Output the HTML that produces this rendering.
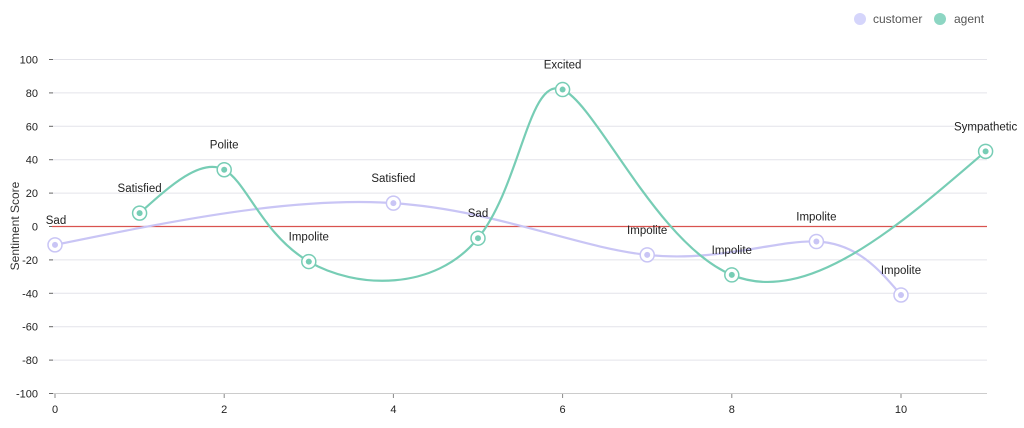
<!DOCTYPE html>
<html><head><meta charset="utf-8"><style>
body{margin:0;background:#fff;}
svg text{font-family:"Liberation Sans",sans-serif;}
</style></head><body>
<svg id="s" width="1024" height="423" xmlns="http://www.w3.org/2000/svg">
<g id="grid"></g>
<line x1="52" y1="226.5" x2="987" y2="226.5" stroke="#d9534f" stroke-width="1.2"/>
<text transform="translate(19,226) rotate(-90)" text-anchor="middle" font-size="12" fill="#333">Sentiment Score</text>
<circle cx="860" cy="19" r="6" fill="#d5d5fb"/><text x="873" y="23" font-size="12" fill="#555">customer</text>
<circle cx="940" cy="19" r="6" fill="#8dd6c3"/><text x="954" y="23" font-size="12" fill="#555">agent</text>
<g id="series"></g>
</svg>
<script>
var ns="http://www.w3.org/2000/svg",s=document.getElementById('s');
function X(v){return 55+v*84.6}function Y(v){return 226.5-v*1.67}
function el(p,t,a,txt){var e=document.createElementNS(ns,t);for(var k in a)e.setAttribute(k,a[k]);if(txt!=null)e.textContent=txt;p.appendChild(e);return e}
var g=document.getElementById('grid');
for(var v=-100;v<=100;v+=20){var y=Y(v);
 el(g,'line',{x1:52,x2:987,y1:y,y2:y,stroke:v==-100?'#ccc':'#e4e4ea','stroke-width':1});
 el(g,'line',{x1:49,x2:53,y1:y,y2:y,stroke:'#666'});
 el(g,'text',{x:38,y:y+4,'text-anchor':'end','font-size':11,fill:'#222'},v);}
for(var i=0;i<=10;i+=2){var x=X(i);el(g,'line',{x1:x,x2:x,y1:394,y2:398,stroke:'#888'});
 el(g,'text',{x:x,y:413,'text-anchor':'middle','font-size':11,fill:'#222'},i);}
function cp(x){var n=x.length-1,a=[],b=[],r=[],i,m;
 a[0]=0;b[0]=2;r[0]=x[0]+2*x[1];
 for(i=1;i<n-1;i++){a[i]=1;b[i]=4;r[i]=4*x[i]+2*x[i+1];}
 a[n-1]=2;b[n-1]=7;r[n-1]=8*x[n-1]+x[n];
 for(i=1;i<n;i++){m=a[i]/b[i-1];b[i]-=m;r[i]-=m*r[i-1];}
 a[n-1]=r[n-1]/b[n-1];
 for(i=n-2;i>=0;i--)a[i]=(r[i]-a[i+1])/b[i];
 b[n-1]=(x[n]+a[n-1])/2;
 for(i=0;i<n-1;i++)b[i]=2*x[i+1]-a[i+1];
 return[a,b];}
function path(pts){var xs=pts.map(function(p){return p[0]}),ys=pts.map(function(p){return p[1]});
 var px=cp(xs),py=cp(ys),d='M'+xs[0]+','+ys[0];
 for(var i=0;i<xs.length-1;i++)d+=' C'+px[0][i]+','+py[0][i]+' '+px[1][i]+','+py[1][i]+' '+xs[i+1]+','+ys[i+1];
 return d}
var se=document.getElementById('series');
function series(data,col,lab){var pts=data.map(function(d){return[X(d[0]),Y(d[1])]});
 el(se,'path',{d:path(pts),fill:'none',stroke:col,'stroke-width':2.2});
 pts.forEach(function(p,i){el(se,'circle',{cx:p[0],cy:p[1],r:7,fill:'#fff',stroke:col,'stroke-width':1.5});
 el(se,'circle',{cx:p[0],cy:p[1],r:3,fill:col});
 el(se,'text',{x:p[0]+(data[i][0]==0?1:0),y:p[1]-21,'text-anchor':'middle','font-size':11.5,fill:'#222'},data[i][2]);});}
series([[0,-11,'Sad'],[4,14,'Satisfied'],[7,-17,'Impolite'],[9,-9,'Impolite'],[10,-41,'Impolite']],'#c9c5f5');
series([[1,8,'Satisfied'],[2,34,'Polite'],[3,-21,'Impolite'],[5,-7,'Sad'],[6,82,'Excited'],[8,-29,'Impolite'],[11,45,'Sympathetic']],'#77cdb5');
</script>
</body></html>
